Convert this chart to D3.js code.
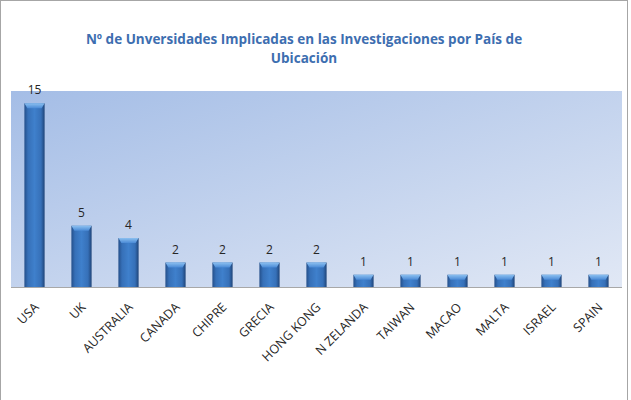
<!DOCTYPE html>
<html>
<head>
<meta charset="utf-8">
<script src="https://cdn.jsdelivr.net/npm/d3@7"></script>
<style>
  body { margin: 0; background: #fff; }
  text { font-family: "Open Sans", "Liberation Sans", sans-serif; }
</style>
</head>
<body>
<div id="chart"></div>
<script>
var svgWidth = 631;
var svgHeight = 400;

var countries = ["USA", "UK", "AUSTRALIA", "CANADA", "CHIPRE", "GRECIA", "HONG KONG",
                 "N ZELANDA", "TAIWAN", "MACAO", "MALTA", "ISRAEL", "SPAIN"];
var universidades = [15, 5, 4, 2, 2, 2, 2, 1, 1, 1, 1, 1, 1];
var yDomain = [0, 16];
var titleLines = ["Nº de Unversidades Implicadas en las Investigaciones por País de", "Ubicación"];

var margin = { top: 91, left: 11, right: 9, bottom: 113 };
var Width = svgWidth - margin.left - margin.right;
var Height = svgHeight - margin.top - margin.bottom;

var svg = d3.select("#chart")
    .append("svg")
    .attr("width", svgWidth)
    .attr("height", svgHeight);

var defs = svg.append("defs");

var bg = defs.append("linearGradient")
    .attr("id", "bg")
    .attr("x1", "0%").attr("y1", "0%")
    .attr("x2", "100%").attr("y2", "100%");
bg.append("stop").attr("offset", "0%").attr("stop-color", "#a4bde6");
bg.append("stop").attr("offset", "100%").attr("stop-color", "#e1e8f5");

var barGrad = defs.append("linearGradient")
    .attr("id", "barGrad")
    .attr("x1", "0%").attr("y1", "0%")
    .attr("x2", "100%").attr("y2", "0%");
barGrad.append("stop").attr("offset", "0%").attr("stop-color", "#244f8a");
barGrad.append("stop").attr("offset", "18%").attr("stop-color", "#3670b8");
barGrad.append("stop").attr("offset", "50%").attr("stop-color", "#3f80cc");
barGrad.append("stop").attr("offset", "82%").attr("stop-color", "#3670b8");
barGrad.append("stop").attr("offset", "100%").attr("stop-color", "#1f4478");

var capGrad = defs.append("linearGradient")
    .attr("id", "capGrad")
    .attr("x1", "0%").attr("y1", "0%")
    .attr("x2", "0%").attr("y2", "100%");
capGrad.append("stop").attr("offset", "0%").attr("stop-color", "#8cc0f0");
capGrad.append("stop").attr("offset", "100%").attr("stop-color", "#4a8ad6");

// outer frame
svg.append("rect")
    .attr("x", 0.5).attr("y", 0.5)
    .attr("width", 627).attr("height", svgHeight + 5)
    .attr("fill", "none")
    .attr("stroke", "#a6a6a6");

svg.selectAll(".title")
    .data(titleLines)
    .enter()
    .append("text")
    .attr("class", "title")
    .attr("x", 304)
    .attr("y", (d, i) => 44 + i * 19)
    .attr("text-anchor", "middle")
    .attr("font-size", 13.5)
    .attr("font-weight", "bold")
    .attr("fill", "#3d6eb0")
    .text(d => d);

var chartGroup = svg.append("g")
    .attr("transform", `translate(${margin.left}, ${margin.top})`);

chartGroup.append("rect")
    .attr("width", Width)
    .attr("height", Height)
    .attr("fill", "url(#bg)");

var xBandScale = d3.scaleBand()
    .domain(countries)
    .range([0, Width])
    .paddingInner(0.57)
    .paddingOuter(0.285);

var yLinearScale = d3.scaleLinear()
    .domain(yDomain)
    .range([Height, 0]);

var data = countries.map(function(c, i) {
    return { country: c, value: universidades[i] };
});

var bars = chartGroup.selectAll(".bar")
    .data(data)
    .enter()
    .append("g")
    .attr("class", "bar");

bars.append("rect")
    .attr("x", d => xBandScale(d.country))
    .attr("y", d => yLinearScale(d.value))
    .attr("width", xBandScale.bandwidth())
    .attr("height", d => Height - yLinearScale(d.value))
    .attr("fill", "url(#barGrad)");

bars.append("path")
    .attr("d", function(d) {
        var x0 = xBandScale(d.country);
        var w = xBandScale.bandwidth();
        var y0 = yLinearScale(d.value);
        return `M${x0},${y0} L${x0 + w},${y0} L${x0 + w - 3},${y0 + 5} L${x0 + 3},${y0 + 5} Z`;
    })
    .attr("fill", "url(#capGrad)");

bars.append("text")
    .attr("x", d => xBandScale(d.country) + xBandScale.bandwidth() / 2)
    .attr("y", d => yLinearScale(d.value) - 9)
    .attr("text-anchor", "middle")
    .attr("font-size", 12)
    .attr("fill", "#262626")
    .text(d => d.value);

// baseline
chartGroup.append("line")
    .attr("x1", 0).attr("x2", Width)
    .attr("y1", Height + 0.5).attr("y2", Height + 0.5)
    .attr("stroke", "#a8a8a8");

var xAxis = chartGroup.append("g")
    .attr("transform", `translate(0, ${Height})`)
    .call(d3.axisBottom(xBandScale).tickSize(0).tickPadding(0));

xAxis.select(".domain").remove();
xAxis.selectAll("text")
    .attr("font-size", 12.5)
    .attr("font-family", "'Open Sans', 'Liberation Sans', sans-serif")
    .attr("fill", "#262626")
    .attr("text-anchor", "end")
    .attr("dy", null)
    .attr("y", 0)
    .attr("transform", "translate(5, 21) rotate(-45)");
</script>
</body>
</html>
